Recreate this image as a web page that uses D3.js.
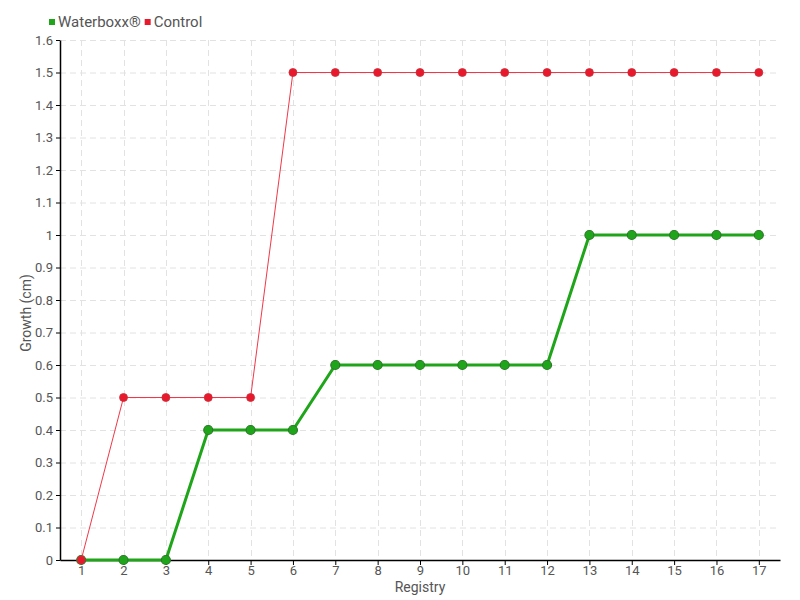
<!DOCTYPE html>
<meta charset="utf-8">
<script src="https://d3js.org/d3.v7.min.js"></script>
<style>
  body { margin: 0; background: #fff; }
  svg text { font-family: "Roboto", "DejaVu Sans", sans-serif; fill: #555; }
</style>
<div id="chart"></div>
<script>

// data
var registry = [1, 2, 3, 4, 5, 6, 7, 8, 9, 10, 11, 12, 13, 14, 15, 16, 17];
var waterboxx = [0, 0, 0, 0.4, 0.4, 0.4, 0.6, 0.6, 0.6, 0.6, 0.6, 0.6, 1, 1, 1, 1, 1];
var control = [0, 0.5, 0.5, 0.5, 0.5, 1.5, 1.5, 1.5, 1.5, 1.5, 1.5, 1.5, 1.5, 1.5, 1.5, 1.5, 1.5];
var yTicks = [0, 0.1, 0.2, 0.3, 0.4, 0.5, 0.6, 0.7, 0.8, 0.9, 1, 1.1, 1.2, 1.3, 1.4, 1.5, 1.6];
var seriesNames = ["Waterboxx®", "Control"];

var W = 800, H = 600;
var margin = {top: 40, right: 20, bottom: 40, left: 60};

var svg = d3.select("#chart").append("svg")
    .attr("width", W)
    .attr("height", H);

var x = d3.scalePoint()
    .domain(registry)
    .range([margin.left, W - margin.right])
    .padding(0.5);

var y = d3.scaleLinear()
    .domain([0, 1.6])
    .range([H - margin.bottom, margin.top]);

// grid
svg.append("g")
  .selectAll("line")
  .data(yTicks)
  .enter().append("line")
    .attr("x1", margin.left)
    .attr("x2", W - margin.right)
    .attr("y1", function(d) { return y(d) + 0.5; })
    .attr("y2", function(d) { return y(d) + 0.5; })
    .attr("stroke", "#e2e2e2")
    .attr("stroke-dasharray", "6,4");

svg.append("g")
  .selectAll("line")
  .data(registry)
  .enter().append("line")
    .attr("x1", function(d) { return Math.round(x(d)) + 0.5; })
    .attr("x2", function(d) { return Math.round(x(d)) + 0.5; })
    .attr("y1", margin.top)
    .attr("y2", H - margin.bottom)
    .attr("stroke", "#e2e2e2")
    .attr("stroke-dasharray", "6,4");

// axes
var xAxis = svg.append("g")
    .attr("transform", "translate(0," + (H - margin.bottom) + ")")
    .call(d3.axisBottom(x).tickSize(5).tickSizeOuter(0).tickPadding(1));
var yAxis = svg.append("g")
    .attr("transform", "translate(" + margin.left + ",0)")
    .call(d3.axisLeft(y).tickValues(yTicks).tickSize(4).tickSizeOuter(0).tickPadding(3)
      .tickFormat(function(d) { return String(Math.round(d * 10) / 10); }));

[xAxis, yAxis].forEach(function(a) {
  a.attr("font-family", null).attr("font-size", null);
  a.select(".domain").attr("stroke", "#000").attr("stroke-width", 1.5);
  a.selectAll(".tick line").attr("stroke", "#000");
  a.selectAll(".tick text").style("font-size", "13px").attr("fill", "#555");
});

// axis titles
svg.append("text")
    .attr("x", (margin.left + W - margin.right) / 2)
    .attr("y", 592)
    .attr("text-anchor", "middle")
    .style("font-size", "14px")
    .text("Registry");

svg.append("text")
    .attr("transform", "translate(31,313) rotate(-90)")
    .attr("text-anchor", "middle")
    .style("font-size", "14px")
    .text("Growth (cm)");

// lines
var line = d3.line()
    .x(function(d, i) { return x(registry[i]); })
    .y(function(d) { return y(d); });

svg.append("path")
    .datum(waterboxx)
    .attr("fill", "none")
    .attr("stroke", "#1fa51a")
    .attr("stroke-width", 3)
    .attr("d", line);

svg.append("g")
  .selectAll("circle")
  .data(waterboxx)
  .enter().append("circle")
    .attr("cx", function(d, i) { return x(registry[i]); })
    .attr("cy", function(d) { return y(d); })
    .attr("r", 4.5)
    .attr("fill", "#1fa51a")
    .attr("stroke", "#2d7a2a")
    .attr("stroke-width", 1.2);

svg.append("path")
    .datum(control)
    .attr("fill", "none")
    .attr("stroke", "#f03848")
    .attr("stroke-width", 1)
    .attr("d", line);

svg.append("g")
  .selectAll("circle")
  .data(control)
  .enter().append("circle")
    .attr("cx", function(d, i) { return x(registry[i]); })
    .attr("cy", function(d) { return y(d); })
    .attr("r", 4)
    .attr("fill", "#e8192c")
    .attr("stroke", "#c8303a")
    .attr("stroke-width", 0.8);

// legend
var legendColors = ["#1fa51a", "#e8192c"];
var legend = svg.append("g").attr("transform", "translate(49,22)");
var lx = 0;
seriesNames.forEach(function(name, i) {
  var g = legend.append("g").attr("transform", "translate(" + lx + ",0)");
  g.append("rect")
      .attr("x", 0).attr("y", -3)
      .attr("width", 6).attr("height", 6)
      .attr("fill", legendColors[i]);
  var t = g.append("text")
      .attr("x", 9).attr("y", 0)
      .attr("dy", "0.35em")
      .style("font-size", "15px")
      .text(name);
  lx += 9 + t.node().getComputedTextLength() + 4;
});

</script>
